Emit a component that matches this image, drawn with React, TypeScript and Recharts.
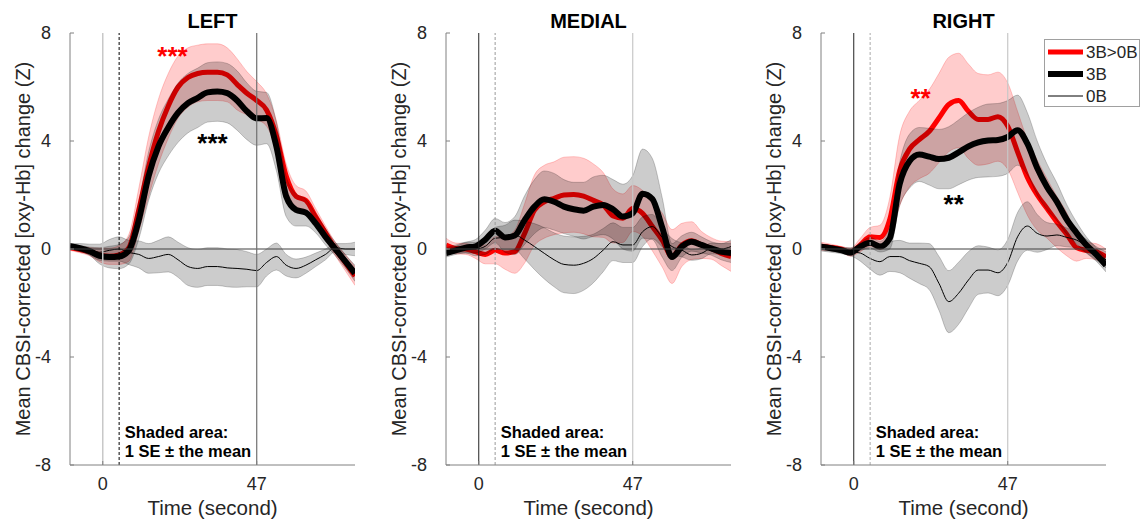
import React from "react";
import {
  Area,
  ComposedChart,
  Legend,
  Line,
  ReferenceDot,
  ReferenceLine,
  XAxis,
  YAxis,
} from "recharts";

// sample times (s) shared by every panel
const time = [-10, -7, -4, -1, 2, 5, 8, 11, 14, 17, 20, 23, 26, 29, 32, 35, 38, 41, 44, 47, 50, 53, 56, 59, 62, 65, 68, 71, 74, 77];
const xTicks = [0, 47];
const yTicks = [-8, -4, 0, 4, 8];
const xDomain = [-10, 77];
const yDomain = [-8, 8];
const seriesNames = ["3B>0B", "3B", "0B"];

// LEFT
const leftRedMean = [0.05, -0.02, -0.1, -0.22, -0.27, -0.22, 0.05, 1.45, 3.05, 4.35, 5.3, 6.0, 6.35, 6.5, 6.55, 6.55, 6.45, 6.1, 5.77, 5.5, 5.15, 4.2, 2.7, 1.95, 1.8, 1.2, 0.6, 0.0, -0.5, -1.0];
const leftRedSE = [0.1, 0.12, 0.15, 0.25, 0.3, 0.35, 0.5, 0.8, 1.1, 1.2, 1.2, 1.15, 1.1, 1.05, 1.05, 1.05, 1.0, 0.95, 0.8, 0.7, 0.6, 0.55, 0.45, 0.4, 0.35, 0.3, 0.25, 0.25, 0.3, 0.35];
const left3BMean = [0.1, 0.03, -0.08, -0.25, -0.3, -0.28, -0.05, 1.07, 2.7, 3.8, 4.5, 5.05, 5.4, 5.6, 5.8, 5.83, 5.77, 5.5, 5.1, 4.84, 4.85, 3.8, 1.95, 1.45, 1.35, 0.95, 0.45, 0.0, -0.45, -0.9];
const left3BSE = [0.1, 0.1, 0.15, 0.3, 0.4, 0.45, 0.5, 0.7, 0.9, 1.0, 1.05, 1.1, 1.1, 1.1, 1.1, 1.1, 1.1, 1.1, 1.05, 1.0, 0.95, 0.9, 0.75, 0.6, 0.5, 0.35, 0.3, 0.25, 0.25, 0.3];
const left0BMean = [0.1, 0.05, -0.02, -0.12, -0.05, 0.0, -0.13, -0.2, -0.35, -0.28, -0.2, -0.4, -0.65, -0.72, -0.65, -0.65, -0.7, -0.72, -0.75, -0.8, -0.5, -0.28, -0.6, -0.72, -0.6, -0.4, -0.2, 0.05, 0.0, 0.0];
const left0BSE = [0.1, 0.15, 0.2, 0.3, 0.4, 0.45, 0.45, 0.5, 0.55, 0.6, 0.65, 0.65, 0.7, 0.7, 0.7, 0.7, 0.7, 0.7, 0.65, 0.6, 0.5, 0.5, 0.4, 0.35, 0.3, 0.25, 0.2, 0.15, 0.2, 0.25];

// MEDIAL
const medRedMean = [0.15, 0.02, 0.0, -0.1, -0.2, -0.05, -0.15, -0.1, 0.58, 1.44, 1.75, 1.88, 2.0, 2.02, 1.96, 1.8, 1.63, 1.22, 1.14, 1.5, 1.32, 0.83, 0.33, -0.28, 0.15, 0.31, 0.15, 0.02, -0.16, -0.28];
const medRedSE = [0.25, 0.2, 0.2, 0.25, 0.35, 0.5, 0.6, 0.8, 1.1, 1.3, 1.35, 1.35, 1.4, 1.4, 1.4, 1.35, 1.2, 1.0, 0.9, 0.85, 0.85, 0.9, 1.0, 1.0, 0.8, 0.7, 0.5, 0.4, 0.45, 0.55];
const med3BMean = [-0.15, -0.05, 0.05, 0.1, 0.35, 0.68, 0.43, 0.5, 1.07, 1.57, 1.84, 1.75, 1.57, 1.47, 1.42, 1.57, 1.63, 1.47, 1.2, 1.32, 2.05, 1.85, 0.8, -0.3, 0.09, 0.27, 0.15, 0.02, -0.1, -0.15];
const med3BSE = [0.15, 0.15, 0.2, 0.25, 0.35, 0.45, 0.55, 0.7, 0.9, 1.0, 1.05, 1.05, 1.0, 1.0, 1.05, 1.1, 1.1, 1.1, 1.2, 1.4, 1.65, 1.5, 1.1, 0.5, 0.4, 0.35, 0.3, 0.25, 0.3, 0.35];
const med0BMean = [-0.1, 0.0, 0.05, 0.0, 0.1, 0.4, 0.43, 0.52, 0.33, 0.09, -0.16, -0.4, -0.57, -0.6, -0.53, -0.35, -0.04, 0.27, 0.15, 0.15, 0.64, 0.83, 0.43, 0.09, -0.04, -0.22, -0.16, 0.02, 0.0, 0.09];
const med0BSE = [0.15, 0.15, 0.2, 0.25, 0.3, 0.4, 0.45, 0.55, 0.7, 0.85, 0.95, 1.0, 1.05, 1.05, 1.0, 0.9, 0.8, 0.7, 0.65, 0.65, 0.55, 0.45, 0.35, 0.3, 0.25, 0.2, 0.2, 0.2, 0.2, 0.25];

// RIGHT
const rightRedMean = [0.1, 0.06, 0.0, -0.12, 0.15, 0.45, 0.43, 1.1, 2.9, 3.7, 4.05, 4.35, 4.85, 5.35, 5.5, 5.1, 4.8, 4.8, 4.9, 4.55, 3.6, 2.65, 2.0, 1.5, 1.0, 0.55, 0.05, -0.05, -0.1, -0.3];
const rightRedSE = [0.15, 0.12, 0.1, 0.15, 0.25, 0.35, 0.45, 0.8, 1.3, 1.4, 1.45, 1.55, 1.65, 1.75, 1.75, 1.75, 1.7, 1.65, 1.65, 1.6, 1.5, 1.4, 1.3, 1.1, 0.95, 0.8, 0.5, 0.3, 0.3, 0.3];
const right3BMean = [0.08, 0.03, -0.04, -0.13, 0.09, 0.23, 0.09, 0.4, 2.4, 3.25, 3.5, 3.42, 3.33, 3.38, 3.58, 3.8, 3.95, 4.02, 4.04, 4.15, 4.4, 3.9, 3.0, 2.3, 1.75, 1.1, 0.6, 0.15, -0.2, -0.6];
const right3BSE = [0.1, 0.1, 0.1, 0.12, 0.15, 0.2, 0.2, 0.4, 0.8, 1.0, 1.0, 1.05, 1.1, 1.15, 1.2, 1.25, 1.3, 1.35, 1.35, 1.35, 1.3, 1.15, 1.0, 0.85, 0.7, 0.55, 0.4, 0.3, 0.25, 0.25];
const right0BMean = [0.05, 0.0, -0.05, -0.1, -0.15, -0.35, -0.47, -0.28, -0.28, -0.43, -0.53, -0.65, -1.27, -1.95, -1.64, -1.15, -0.78, -0.78, -0.88, -0.5, 0.45, 0.85, 0.58, 0.48, 0.52, 0.43, 0.33, 0.11, -0.16, -0.4];
const right0BSE = [0.12, 0.12, 0.12, 0.15, 0.3, 0.4, 0.5, 0.55, 0.6, 0.65, 0.75, 0.85, 1.0, 1.15, 1.15, 1.05, 0.9, 0.85, 0.85, 0.85, 0.9, 0.9, 0.7, 0.5, 0.4, 0.35, 0.3, 0.25, 0.25, 0.3];

const FONT = "Arial, 'Liberation Sans', Helvetica, sans-serif";
const RED = "#ff0000";
const TEXT = "#262626";
const AXIS = "#808080";

type Star = { t: number; v: number; text: string; color: string };

const panels = [
  {
    title: "LEFT",
    left: 0,
    width: 376,
    redMean: leftRedMean, redSE: leftRedSE,
    mean3B: left3BMean, se3B: left3BSE,
    mean0B: left0BMean, se0B: left0BSE,
    onsetColor: "#c8c8c8", onsetWidth: 1.5,
    endColor: "#707070",
    dashColor: "#000000",
    stars: [
      { t: 21.3, v: 7.37, text: "***", color: RED },
      { t: 33.5, v: 4.15, text: "***", color: "#000" },
    ] as Star[],
    legend: false,
  },
  {
    title: "MEDIAL",
    left: 376,
    width: 375,
    redMean: medRedMean, redSE: medRedSE,
    mean3B: med3BMean, se3B: med3BSE,
    mean0B: med0BMean, se0B: med0BSE,
    onsetColor: "#222222", onsetWidth: 1,
    endColor: "#c8c8c8",
    dashColor: "#999999",
    stars: [] as Star[],
    legend: false,
  },
  {
    title: "RIGHT",
    left: 751,
    width: 393,
    redMean: rightRedMean, redSE: rightRedSE,
    mean3B: right3BMean, se3B: right3BSE,
    mean0B: right0BMean, se0B: right0BSE,
    onsetColor: "#222222", onsetWidth: 1,
    endColor: "#c8c8c8",
    dashColor: "#aaaaaa",
    stars: [
      { t: 20.4, v: 5.8, text: "**", color: RED },
      { t: 30.5, v: 1.9, text: "**", color: "#000" },
    ] as Star[],
    legend: true,
  },
];

const YLabel = (props: any) => {
  const vb = props.viewBox || { x: 0, y: 33, width: 70, height: 432 };
  const cx = vb.x + vb.width - 47;
  const cy = vb.y + vb.height / 2;
  return (
    <text
      x={cx}
      y={cy}
      transform={`rotate(-90 ${cx} ${cy})`}
      textAnchor="middle"
      dominantBaseline="central"
      fontSize={20}
      fill={TEXT}
      fontFamily={FONT}
    >
      Mean CBSI-corrected [oxy-Hb] change (Z)
    </text>
  );
};

const XLabel = (props: any) => {
  const vb = props.viewBox || { x: 70, y: 465, width: 285, height: 50 };
  return (
    <text x={vb.x + vb.width / 2} y={vb.y + 50} textAnchor="middle" fontSize={20.5} fill={TEXT} fontFamily={FONT}>
      Time (second)
    </text>
  );
};

const legendWidths: Record<string, number> = { "3B>0B": 5, "3B": 6, "0B": 1 };

const LegendBox = (props: any) => {
  const items = (props.payload || []).filter((p: any) => p.type !== "none");
  const entries = seriesNames.map((name) => {
    const hit = items.find((p: any) => p.value === name);
    return { name, color: hit ? hit.color : name === "3B>0B" ? RED : "#000" };
  });
  return (
    <svg width={96} height={68} style={{ display: "block" }}>
      <rect x={0.5} y={0.5} width={95} height={67} fill="#fff" stroke="#a0a0a0" />
      {entries.map((e, i) => (
        <g key={e.name}>
          <line x1={4} x2={39} y1={13 + i * 22} y2={13 + i * 22} stroke={e.color} strokeWidth={legendWidths[e.name]} />
          <text x={42} y={13 + i * 22} dominantBaseline="central" fontSize={17} fill={TEXT} fontFamily={FONT}>
            {e.name}
          </text>
        </g>
      ))}
    </svg>
  );
};

function Panel({ p }: { p: (typeof panels)[number] }) {
  const rows = time.map((t, i) => ({
    t,
    red: p.redMean[i],
    redBand: [p.redMean[i] - p.redSE[i], p.redMean[i] + p.redSE[i]],
    b3: p.mean3B[i],
    b3Band: [p.mean3B[i] - p.se3B[i], p.mean3B[i] + p.se3B[i]],
    b0: p.mean0B[i],
    b0Band: [p.mean0B[i] - p.se0B[i], p.mean0B[i] + p.se0B[i]],
  }));

  // extra props (zIndex) keep MATLAB-like draw order: band, line, band, line...
  const z = (n: number) => ({ zIndex: n } as any);

  return (
    <div style={{ position: "absolute", left: p.left, top: 0, width: p.width, height: 528 }}>
      <ComposedChart
        width={p.width}
        height={528}
        data={rows}
        margin={{ top: 33, right: p.width - 355, bottom: 13, left: 0 }}
      >
        <XAxis
          dataKey="t"
          type="number"
          domain={xDomain}
          ticks={xTicks}
          height={50}
          allowDataOverflow
          axisLine={{ stroke: AXIS }}
          tickLine={{ stroke: AXIS }}
          tickSize={-4}
          tickMargin={16}
          tick={{ fill: TEXT, fontSize: 18, fontFamily: FONT }}
          label={<XLabel />}
        />
        <YAxis
          type="number"
          domain={yDomain}
          ticks={yTicks}
          width={70}
          allowDataOverflow
          axisLine={{ stroke: AXIS }}
          tickLine={{ stroke: AXIS }}
          tickSize={-4}
          tickMargin={23}
          tick={{ fill: TEXT, fontSize: 18, fontFamily: FONT }}
          label={<YLabel />}
        />
        <ReferenceLine y={0} stroke="#404040" strokeWidth={1} />
        <ReferenceLine x={0} stroke={p.onsetColor} strokeWidth={p.onsetWidth} />
        <ReferenceLine x={5} stroke={p.dashColor} strokeWidth={1} strokeDasharray="3 2" />
        <ReferenceLine x={47} stroke={p.endColor} strokeWidth={1.2} />

        <Area
          dataKey="redBand"
          type="monotone"
          fill={RED}
          fillOpacity={0.2}
          stroke={RED}
          strokeOpacity={0.25}
          strokeWidth={0.8}
          legendType="none"
          activeDot={false}
          isAnimationActive={false}
          {...z(100)}
        />
        <Line dataKey="red" name="3B>0B" type="monotone" stroke={RED} strokeWidth={5} dot={false} activeDot={false} isAnimationActive={false} {...z(110)} />
        <Area
          dataKey="b3Band"
          type="monotone"
          fill="#000"
          fillOpacity={0.2}
          stroke="#000"
          strokeOpacity={0.25}
          strokeWidth={0.8}
          legendType="none"
          activeDot={false}
          isAnimationActive={false}
          {...z(120)}
        />
        <Line dataKey="b3" name="3B" type="monotone" stroke="#000" strokeWidth={6} dot={false} activeDot={false} isAnimationActive={false} {...z(130)} />
        <Area
          dataKey="b0Band"
          type="monotone"
          fill="#000"
          fillOpacity={0.2}
          stroke="#000"
          strokeOpacity={0.25}
          strokeWidth={0.8}
          legendType="none"
          activeDot={false}
          isAnimationActive={false}
          {...z(140)}
        />
        <Line dataKey="b0" name="0B" type="monotone" stroke="#000" strokeWidth={1} dot={false} activeDot={false} isAnimationActive={false} {...z(150)} />

        {p.stars.map((s) => (
          <ReferenceDot
            key={`${s.t}-${s.color}`}
            x={s.t}
            y={s.v}
            r={0}
            ifOverflow="visible"
            shape={(d: any) => (
              <text x={d.cx} y={d.cy + 15} textAnchor="middle" fontSize={26} fontWeight="bold" fill={s.color} fontFamily={FONT}>
                {s.text}
              </text>
            )}
          />
        ))}
        <ReferenceDot
          x={6.7}
          y={-6.78}
          r={0}
          ifOverflow="visible"
          shape={(d: any) => (
            <text x={d.cx} y={d.cy + 6} fontSize={16.5} fontWeight="bold" fill="#000" fontFamily={FONT}>
              <tspan x={d.cx}>Shaded area:</tspan>
              <tspan x={d.cx} dy={19}>1 SE ± the mean</tspan>
            </text>
          )}
        />
        {p.legend && (
          <Legend
            layout="horizontal"
            verticalAlign="middle"
            align="center"
            wrapperStyle={{ position: "absolute", left: 293, top: 39, width: 96, height: 68 }}
            content={(lp: any) => <LegendBox {...lp} />}
          />
        )}
      </ComposedChart>
      <div
        style={{
          position: "absolute",
          left: 70,
          top: 10,
          width: 285,
          textAlign: "center",
          fontFamily: FONT,
          fontWeight: "bold",
          fontSize: 20,
          lineHeight: "22px",
          color: "#000",
          pointerEvents: "none",
        }}
      >
        {p.title}
      </div>
    </div>
  );
}

export default function App() {
  return (
    <div
      style={{
        position: "absolute",
        left: 0,
        top: 0,
        width: 1144,
        height: 528,
        background: "#fff",
        fontFamily: FONT,
        overflow: "hidden",
      }}
    >
      {panels.map((p) => (
        <Panel key={p.title} p={p} />
      ))}
    </div>
  );
}
